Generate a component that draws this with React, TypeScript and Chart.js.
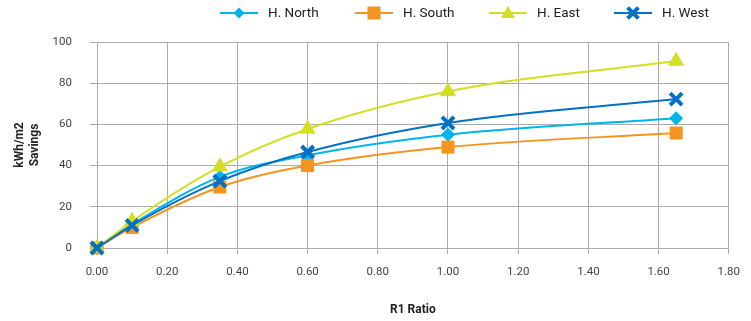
import React, { useEffect, useRef } from "react";
import { Chart, registerables } from "chart.js";

Chart.register(...registerables);

const ratios = [0, 0.1, 0.35, 0.6, 1.0, 1.65];
const northValues = [0, 11.5, 34.5, 45, 55, 63];
const southValues = [0, 10, 29.6, 40, 49, 55.8];
const eastValues = [0, 13, 39.5, 57.8, 76, 90.8];
const westValues = [0, 11, 32.5, 46.6, 60.7, 72.3];
const seriesNames = ["H. North", "H. South", "H. East", "H. West"];

const colors = ["#00B4EE", "#F7941D", "#D4DE23", "#0072C6"];
const styles: any[] = ["rectRot", "rect", "triangle", "crossRot"];
const radii = [6.5, 8.5, 8.5, 8.5];
const borderW = [1, 1, 1, 4];

const FONT = "Roboto, 'Open Sans', sans-serif";

function drawPt(ctx: any, style: string, r: number, x: number, y: number, bw: number) {
  ctx.beginPath();
  if (style === "rectRot") {
    ctx.moveTo(x, y - r);
    ctx.lineTo(x + r, y);
    ctx.lineTo(x, y + r);
    ctx.lineTo(x - r, y);
    ctx.closePath();
    ctx.fill();
  } else if (style === "rect") {
    const s = r * 0.9;
    ctx.fillRect(x - s, y - s, 2 * s, 2 * s);
  } else if (style === "triangle") {
    ctx.moveTo(x, y - r);
    ctx.lineTo(x + r * 0.95, y + r * 0.7);
    ctx.lineTo(x - r * 0.95, y + r * 0.7);
    ctx.closePath();
    ctx.fill();
  } else {
    const d = r * 0.75;
    ctx.lineWidth = bw;
    ctx.moveTo(x - d, y - d);
    ctx.lineTo(x + d, y + d);
    ctx.moveTo(x + d, y - d);
    ctx.lineTo(x - d, y + d);
    ctx.stroke();
  }
}

const legendPlugin = {
  id: "customLegend",
  afterDraw(chart: any) {
    const ctx = chart.ctx;
    const starts = [220, 355, 489, 614];
    const y = 13;
    ctx.save();
    chart.data.datasets.forEach((ds: any, i: number) => {
      const x0 = starts[i];
      ctx.strokeStyle = colors[i];
      ctx.lineWidth = 2;
      ctx.beginPath();
      ctx.moveTo(x0, y);
      ctx.lineTo(x0 + 38, y);
      ctx.stroke();
      ctx.fillStyle = colors[i];
      ctx.strokeStyle = colors[i];
      drawPt(ctx, styles[i], radii[i] * 0.85, x0 + 19, y, borderW[i]);
      ctx.fillStyle = "#222";
      ctx.font = `13.5px ${FONT}`;
      ctx.textBaseline = "middle";
      ctx.textAlign = "left";
      ctx.fillText(ds.label, x0 + 48, y + 1);
    });
    ctx.restore();
  },
};

export default function App() {
  const ref = useRef<HTMLCanvasElement>(null);
  useEffect(() => {
    if (!ref.current) return;
    const all = [northValues, southValues, eastValues, westValues];
    const datasets = all.map((vals, i) => ({
      label: seriesNames[i],
      data: ratios.map((r, j) => ({ x: r, y: vals[j] })),
      borderColor: colors[i],
      backgroundColor: colors[i],
      pointBackgroundColor: colors[i],
      pointBorderColor: colors[i],
      pointStyle: styles[i],
      pointRadius: radii[i],
      pointBorderWidth: borderW[i],
      borderWidth: 2,
      tension: 0.4,
      cubicInterpolationMode: "monotone" as const,
      showLine: true,
      fill: false,
      clip: false,
      order: 3 - i,
    }));
    const chart = new Chart(ref.current, {
      type: "scatter",
      data: { datasets },
      plugins: [legendPlugin],
      options: {
        animation: false,
        responsive: false,
        maintainAspectRatio: false,
        layout: { padding: { top: 42, right: 18, left: 0, bottom: 0 } },
        plugins: { legend: { display: false }, tooltip: { enabled: false } },
        scales: {
          x: {
            type: "linear",
            min: 0,
            max: 1.8,
            ticks: {
              stepSize: 0.2,
              callback: (v: any) => Number(v).toFixed(2),
              color: "#444",
              font: { family: FONT, size: 11.5 },
              padding: 11,
              maxRotation: 0,
            },
            grid: { color: "#adadad", tickLength: 6, lineWidth: 1 },
            border: { color: "#adadad" },
            title: {
              display: true,
              text: "R1 Ratio",
              color: "#222",
              font: { family: FONT, size: 12, weight: "bold" },
              padding: { top: 14 },
            },
            afterFit: (s: any) => {
              s.height = 73;
            },
          },
          y: {
            min: 0,
            max: 100,
            ticks: {
              stepSize: 20,
              color: "#444",
              font: { family: FONT, size: 11.5 },
              padding: 18,
            },
            grid: { color: "#adadad", tickLength: 7, lineWidth: 1 },
            border: { color: "#adadad" },
            title: {
              display: true,
              text: ["kWh/m2", "Savings"],
              color: "#222",
              font: { family: FONT, size: 12, weight: "bold", lineHeight: 1.2 },
              padding: { top: 13, bottom: 0 },
            },
            afterFit: (s: any) => {
              s.width = 97;
            },
          },
        },
      },
    } as any);
    return () => chart.destroy();
  }, []);
  return (
    <div style={{ position: "fixed", left: 0, top: 0, width: 751, height: 321, background: "#fff" }}>
      <canvas ref={ref} width={751} height={321} style={{ width: 751, height: 321 }} />
    </div>
  );
}
